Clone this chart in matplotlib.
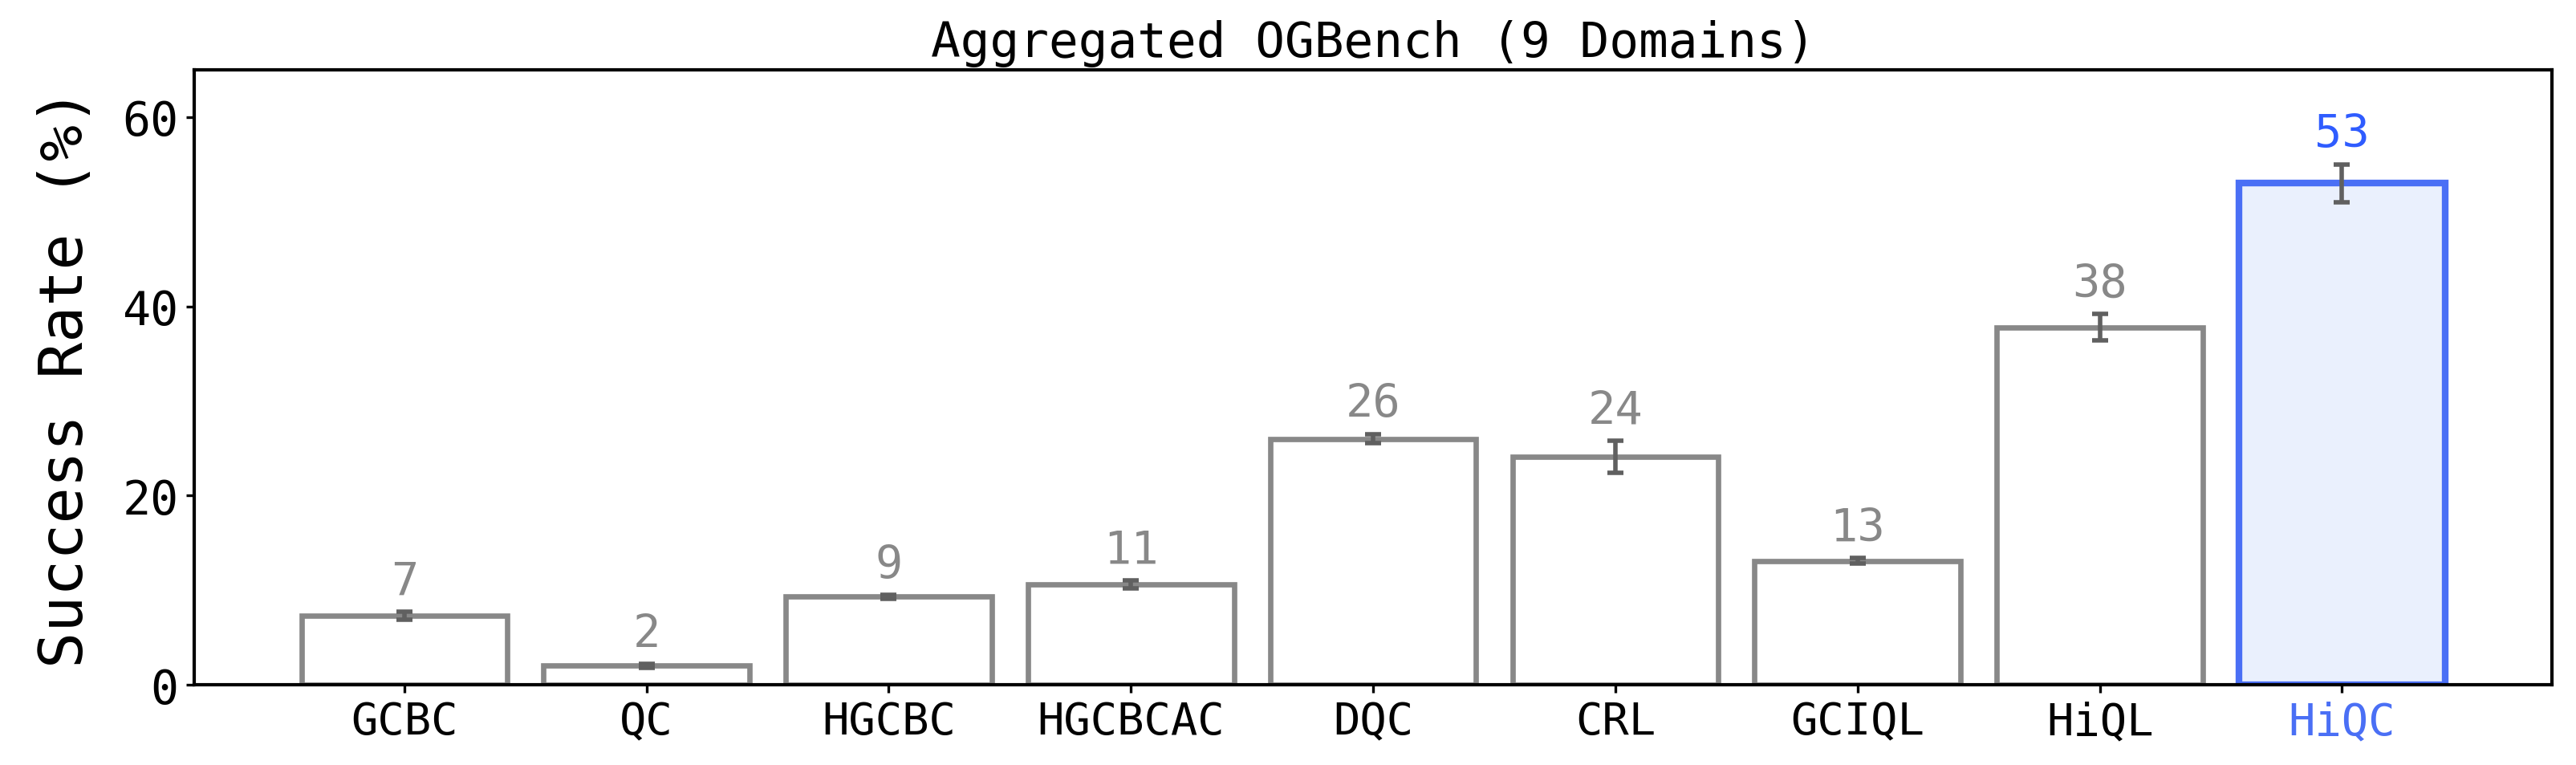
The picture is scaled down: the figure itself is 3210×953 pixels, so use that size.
import matplotlib.pyplot as plt
import numpy as np

plt.rcParams['font.family'] = ['DejaVu Sans Mono']

methods = ['GCBC', 'QC', 'HGCBC', 'HGCBCAC', 'DQC', 'CRL', 'GCIQL', 'HiQL', 'HiQC']
means = [7.3, 2.0, 9.3, 10.6, 26.0, 24.1, 13.1, 37.8, 53.0]
errs = [0.4, 0.2, 0.2, 0.4, 0.5, 1.7, 0.3, 1.4, 2.0]
ours = 'HiQC'

gray = '#888888'
blue_edge = '#4a6ff5'
blue_fill = '#eaf0fd'
blue_text = '#2f5cff'
err_col = '#606060'

fig, ax = plt.subplots(figsize=(16.05, 4.77), dpi=200)
fig.subplots_adjust(left=0.0754, right=0.9907, top=0.9078, bottom=0.1048)

x = np.arange(len(methods))
for i, (m, v, e) in enumerate(zip(methods, means, errs)):
    if m == ours:
        ax.bar(x[i], v, width=0.85, facecolor=blue_fill, edgecolor=blue_edge, linewidth=3.0, zorder=2)
        tcol = blue_text
    else:
        ax.bar(x[i], v, width=0.85, facecolor='white', edgecolor=gray, linewidth=2.4, zorder=2)
        tcol = gray
    ax.errorbar(x[i], v, yerr=e, color=err_col, capsize=3.5, capthick=2, elinewidth=2, zorder=3)
    ax.text(x[i], v + e + 0.8, f'{v:.0f}', ha='center', va='bottom', fontsize=20.5, color=tcol)

ax.set_xticks(x)
ax.set_xticklabels(methods, fontsize=20)
for lbl in ax.get_xticklabels():
    if lbl.get_text() == ours:
        lbl.set_color(blue_edge)
ax.set_ylim(0, 65)
ax.set_yticks([0, 20, 40, 60])
ax.tick_params(axis='y', labelsize=21, width=1.2)
ax.tick_params(axis='x', width=1.2)
ax.set_ylabel('Success Rate (%)', fontsize=27, labelpad=12)
ax.set_title('Aggregated OGBench (9 Domains)', fontsize=22)
for s in ax.spines.values():
    s.set_linewidth(1.5)

fig.savefig('out.png', dpi=200)
